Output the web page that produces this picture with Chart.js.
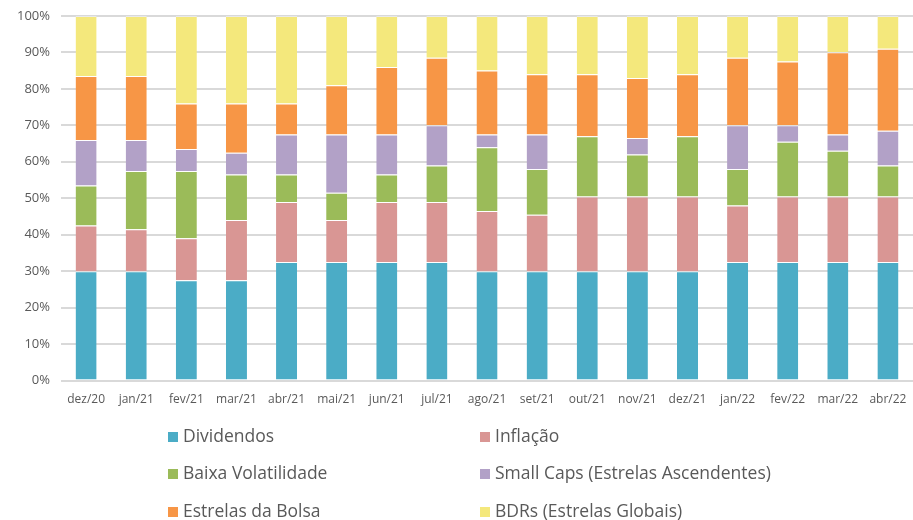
<!DOCTYPE html>
<html><head><meta charset="utf-8">
<script src="https://cdn.jsdelivr.net/npm/chart.js@4"></script>
<style>html,body{margin:0;padding:0;background:#fff;}#wrap{width:913px;height:520px;position:relative;}</style>
</head><body><div id="wrap"><canvas id="c" width="913" height="520"></canvas></div>
<script>
const categories = ["dez/20","jan/21","fev/21","mar/21","abr/21","mai/21","jun/21","jul/21","ago/21","set/21","out/21","nov/21","dez/21","jan/22","fev/22","mar/22","abr/22"];
const dividendos   = [30,30,27.5,27.5,32.5,32.5,32.5,32.5,30,30,30,30,30,32.5,32.5,32.5,32.5];
const inflacao     = [12.5,11.5,11.5,16.5,16.5,11.5,16.5,16.5,16.5,15.5,20.5,20.5,20.5,15.5,18,18,18];
const baixaVol     = [11,16,18.5,12.5,7.5,7.5,7.5,10,17.5,12.5,16.5,11.5,16.5,10,15,12.5,8.5];
const smallCaps    = [12.5,8.5,6,6,11,16,11,11,3.5,9.5,0,4.5,0,12,4.5,4.5,9.5];
const estrelasBolsa= [17.5,17.5,12.5,13.5,8.5,13.5,18.5,18.5,17.5,16.5,17,16.5,17,18.5,17.5,22.5,22.5];
const bdrs         = [16.5,16.5,24,24,24,19,14,11.5,15,16,16,17,16,11.5,12.5,10,9];
const seriesNames  = ["Dividendos","Inflação","Baixa Volatilidade","Small Caps (Estrelas Ascendentes)","Estrelas da Bolsa","BDRs (Estrelas Globais)"];
const yTicks = [0,10,20,30,40,50,60,70,80,90,100];
const colors = ["#4BACC6","#D99694","#9BBB59","#B2A1C7","#F79646","#F4E87C"];
const allSeries = [dividendos,inflacao,baixaVol,smallCaps,estrelasBolsa,bdrs];
const FONT = "'Open Sans', 'Noto Sans', sans-serif";

const legendPlugin = {
  id: 'gridLegend',
  afterDraw(chart){
    const ctx = chart.ctx;
    ctx.save();
    ctx.font = "17.5px " + FONT;
    ctx.textBaseline = 'middle';
    const colX = [168, 480];
    const rowY = [437, 474, 512];
    chart.data.datasets.forEach((ds,i)=>{
      const x = colX[i%2], y = rowY[Math.floor(i/2)];
      ctx.fillStyle = ds.backgroundColor;
      ctx.fillRect(x, y-5, 10, 10);
      ctx.fillStyle = '#595959';
      ctx.fillText(ds.label, x+15, y);
    });
    ctx.restore();
  }
};

new Chart(document.getElementById('c'), {
  type: 'bar',
  data: {
    labels: categories,
    datasets: allSeries.map((d,i)=>({
      label: seriesNames[i], data: d, backgroundColor: colors[i],
      borderColor: 'rgba(255,255,255,0.45)', borderWidth: {top:1,bottom:0,left:0,right:0}, borderSkipped: false,
      barPercentage: 0.42, categoryPercentage: 1.0
    }))
  },
  options: {
    responsive: false, animation: false,
    layout: { padding: { top: 0, right: 0, left: 6, bottom: 109 } },
    plugins: { legend: { display: false }, tooltip: { enabled: false } },
    scales: {
      x: { stacked: true, grid: { display: false }, border: { display: false },
           ticks: { color: '#595959', font: { size: 12, family: FONT }, maxRotation: 0, padding: 4 } },
      y: { stacked: true, min: 0, max: 100,
           afterBuildTicks: ax => { ax.ticks = yTicks.map(v=>({value:v})); },
           grid: { color: '#D9D9D9', lineWidth: 2, drawTicks: false }, border: { display: false },
           ticks: { color: '#595959', font: { size: 13, family: FONT, lineHeight: 0.75 }, padding: 11, callback: v => v + '%' } }
    }
  },
  plugins: [legendPlugin]
});
</script></body></html>
